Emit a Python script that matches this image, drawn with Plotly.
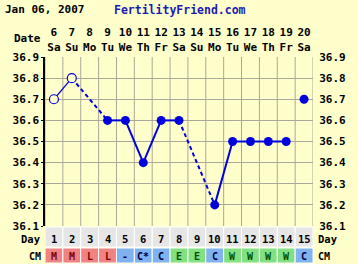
import plotly.graph_objects as go

# ---------------- data ----------------
dates = [6, 7, 8, 9, 10, 11, 12, 13, 14, 15, 16, 17, 18, 19, 20]
weekdays = ["Sa", "Su", "Mo", "Tu", "We", "Th", "Fr", "Sa", "Su", "Mo", "Tu", "We", "Th", "Fr", "Sa"]
cycle_days = [1, 2, 3, 4, 5, 6, 7, 8, 9, 10, 11, 12, 13, 14, 15]
temps = [36.7, 36.8, None, 36.6, 36.6, 36.4, 36.6, 36.6, None, 36.2, 36.5, 36.5, 36.5, 36.5, 36.7]
open_point = [True, True, False, False, False, False, False, False, False, False, False, False, False, False, False]
joined_to_previous = [False, True, False, True, True, True, True, True, False, True, True, True, True, True, False]
cm_labels = ["M", "M", "L", "L", "-", "C*", "C", "E", "E", "C", "W", "W", "W", "W", "C"]
y_ticks = [36.1, 36.2, 36.3, 36.4, 36.5, 36.6, 36.7, 36.8, 36.9]
title_date = "Jan 06, 2007"
site = "FertilityFriend.com"

# ---------------- styles ----------------
BG = "#ffffcc"
GRID = "#aaa898"
BLUE = "#0000dd"
FONT = "DejaVu Sans Mono"
cm_style = {
    "M": ("#f08282", "#800000"), "L": ("#f08282", "#800000"),
    "-": ("#80b2f0", "#000040"), "C*": ("#80b2f0", "#000040"), "C": ("#80b2f0", "#000040"),
    "E": ("#82e082", "#005000"), "W": ("#82e082", "#005000"),
}

W, H = 358, 264
L, R, T, B = 45, 43, 57, 38
PW, PH = W - L - R, H - T - B
def py(pix):  # pixel row -> paper y
    return (H - B - pix) / PH
def px(pix):  # pixel column -> paper x
    return (pix - L) / PW

n = len(dates)
xs = list(range(n))
fig = go.Figure()

# connecting lines
valid = [i for i in xs if temps[i] is not None]
for k in range(1, len(valid)):
    i, j = valid[k], valid[k - 1]
    if not joined_to_previous[i]:
        continue
    dashed = (i - j) > 1
    thin = open_point[i] and open_point[j]
    fig.add_trace(go.Scatter(
        x=[j, i], y=[temps[j], temps[i]], mode="lines",
        line=dict(color=BLUE, width=1.2 if thin else 2, dash="4px,3px" if dashed else "solid"),
        hoverinfo="skip", showlegend=False))

# markers
fx = [i for i in valid if not open_point[i]]
ox = [i for i in valid if open_point[i]]
fig.add_trace(go.Scatter(x=fx, y=[temps[i] for i in fx], mode="markers",
                         marker=dict(color=BLUE, size=9, line=dict(width=0)),
                         showlegend=False))
fig.add_trace(go.Scatter(x=ox, y=[temps[i] for i in ox], mode="markers",
                         marker=dict(color=BG, size=9, line=dict(color=BLUE, width=1.2)),
                         showlegend=False))
# invisible trace for the right-hand axis
fig.add_trace(go.Scatter(x=fx, y=[temps[i] for i in fx], yaxis="y2", mode="markers",
                         marker=dict(opacity=0), hoverinfo="skip", showlegend=False))

shapes = []
# vertical grid lines at cell boundaries
for b in range(n + 1):
    shapes.append(dict(type="line", xref="x", yref="paper", x0=b - 0.5, x1=b - 0.5, y0=0, y1=1,
                       line=dict(color=GRID, width=1), layer="below"))

annotations = []
day_top, day_bot = py(227), py(247)
cm_top, cm_bot = py(248), py(263)
day_y, cm_y = py(239), py(256)

def txt(x, y, text, xref="paper", xanchor="center", size=11, color="black"):
    return dict(x=x, y=y, xref=xref, yref="paper", text=text, showarrow=False,
                xanchor=xanchor, yanchor="middle",
                font=dict(family=FONT, size=size, color=color, weight="bold"))

for i in xs:
    shapes.append(dict(type="rect", xref="x", yref="paper", x0=i - 0.5, x1=i + 0.5,
                       y0=day_bot, y1=day_top, fillcolor="#e6e6e6",
                       line=dict(color="#ffffff", width=1)))
    fill, tc = cm_style[cm_labels[i]]
    shapes.append(dict(type="rect", xref="x", yref="paper", x0=i - 0.5, x1=i + 0.5,
                       y0=cm_bot, y1=cm_top, fillcolor=fill,
                       line=dict(color="#ffffff", width=1)))
    annotations.append(txt(i, day_y, str(cycle_days[i]), xref="x", size=10.5))
    annotations.append(txt(i, cm_y, cm_labels[i], xref="x", size=10, color=tc))

annotations += [
    txt(px(3), py(10), title_date, xanchor="left", size=11),
    txt(px(112), py(10), site, xanchor="left", size=11.5, color="#1c1cb0"),
    txt(px(43), py(39), "Date", xanchor="right", size=11),
    txt(px(43), day_y, "Day", xanchor="right", size=10.5),
    txt(px(43), cm_y, "CM", xanchor="right", size=10),
    txt(px(318), day_y, "Day", xanchor="left", size=10.5),
    txt(px(318), cm_y, "CM", xanchor="left", size=10),
]

tick_font = dict(family=FONT, size=11, color="black", weight="bold")
fig.update_layout(
    width=W, height=H, autosize=False,
    margin=dict(l=L, r=R, t=T, b=B, pad=0),
    paper_bgcolor=BG, plot_bgcolor=BG,
    showlegend=False,
    shapes=shapes, annotations=annotations,
    xaxis=dict(range=[-0.5, n - 0.5], side="top", tickmode="array", tickvals=xs,
               ticktext=[f"{d}<br>{w}" for d, w in zip(dates, weekdays)],
               showgrid=False, zeroline=False, ticks="", ticklen=0,
               ticklabelstandoff=3,
               tickfont=dict(family=FONT, size=11, color="black", weight="bold"),
               showline=False, fixedrange=True),
    yaxis=dict(range=[36.1, 36.9], tickmode="array", tickvals=y_ticks,
               ticktext=[f"{v:.1f}" for v in y_ticks], showgrid=True, gridcolor=GRID,
               gridwidth=1, zeroline=False, showline=True, linecolor="black", linewidth=1.5,
               ticks="outside", ticklen=2, tickcolor="black", tickfont=tick_font,
               fixedrange=True),
    yaxis2=dict(range=[36.1, 36.9], overlaying="y", side="right", tickmode="array",
                tickvals=y_ticks, ticktext=[f"{v:.1f}" for v in y_ticks], showgrid=False,
                zeroline=False, showline=False, ticks="outside", ticklen=3,
                tickcolor="rgba(0,0,0,0)", tickfont=tick_font, fixedrange=True),
)

fig.write_html("out.html", config={"displayModeBar": False})
